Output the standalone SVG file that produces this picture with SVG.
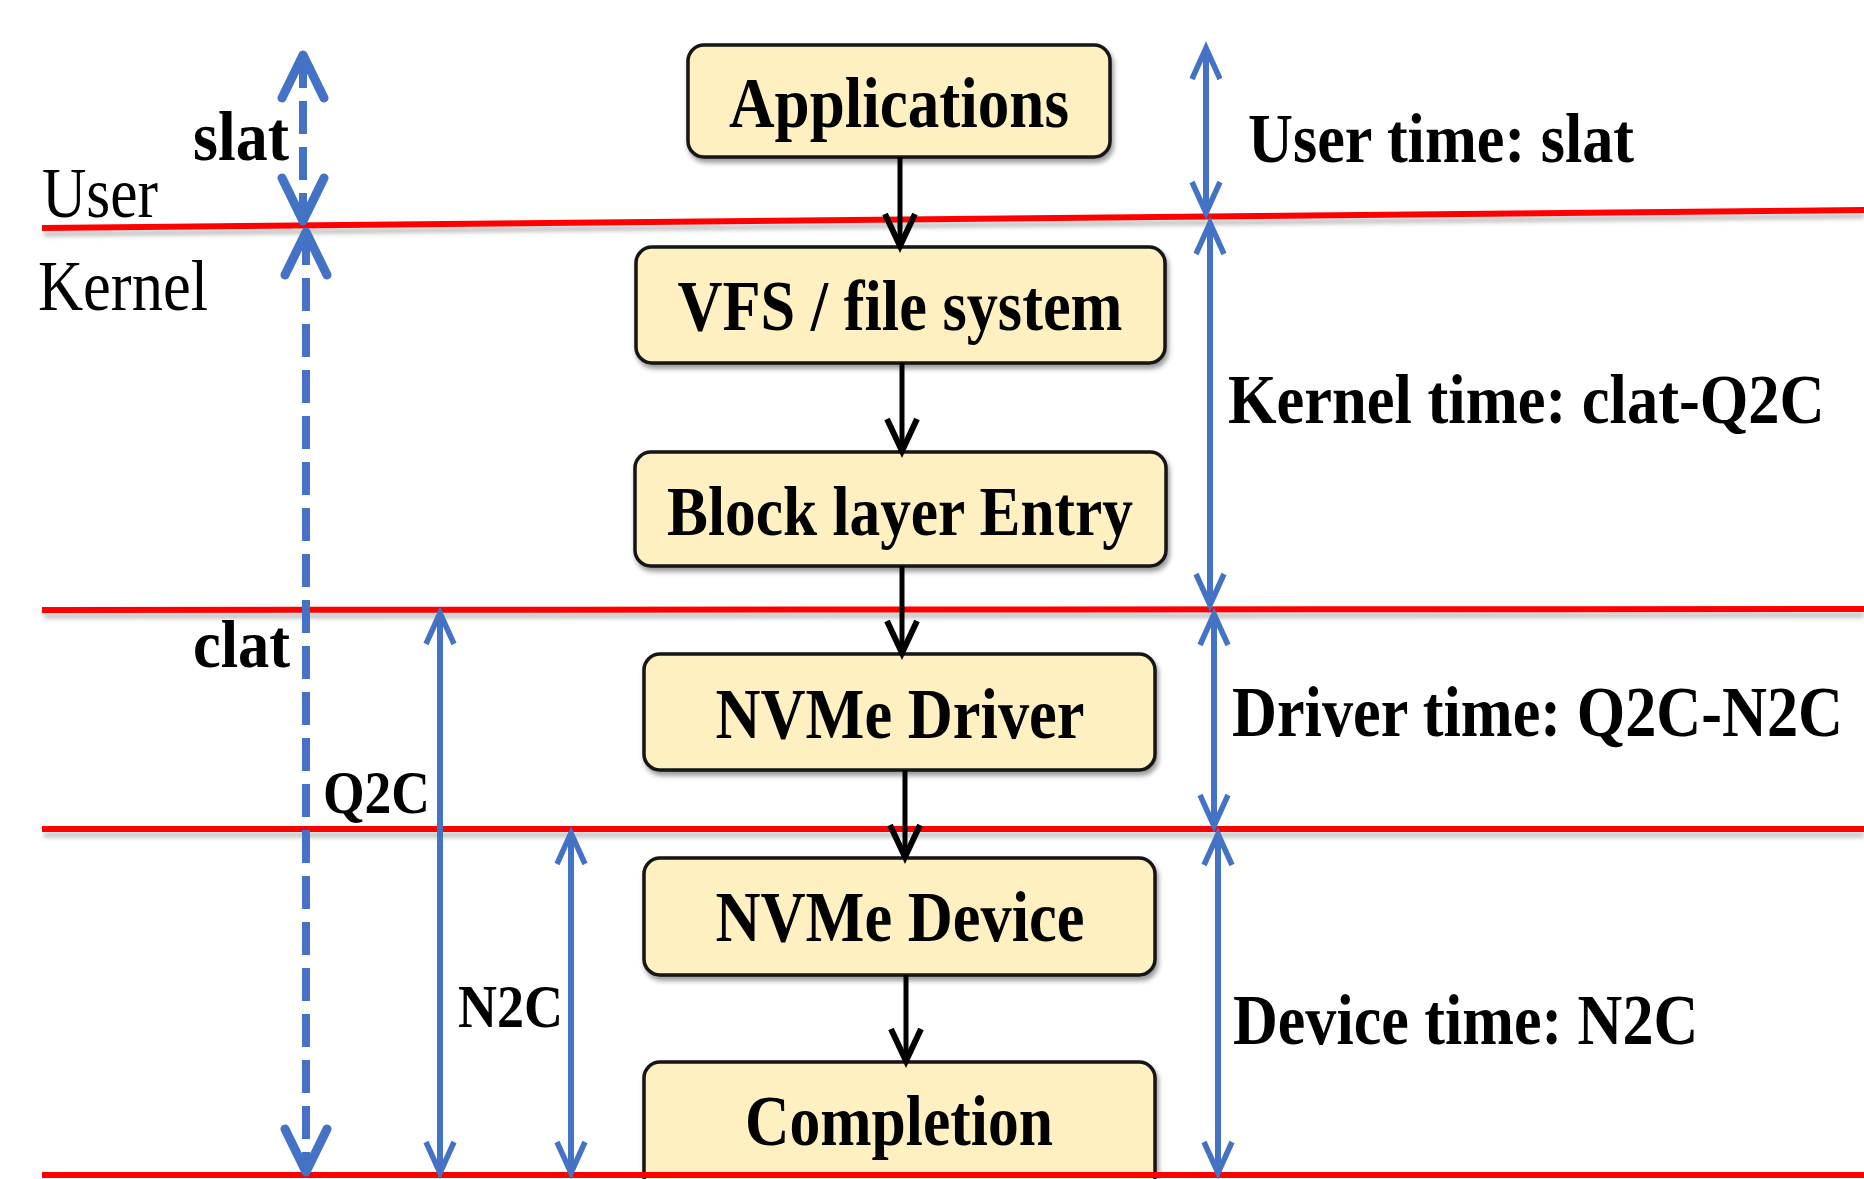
<svg xmlns="http://www.w3.org/2000/svg" width="1864" height="1179" viewBox="0 0 1864 1179">
  <style>
    .lane { stroke: #FF0000; stroke-width: 6; fill: none; }
    .laneShadow { stroke: #8a8a8a; stroke-width: 5; fill: none; opacity: 0.55; }
    .box { fill: #FFF0C2; stroke: #151515; stroke-width: 3.5; }
    .t { font-family: "Liberation Serif", "Times New Roman", serif; fill: #000; }
    .b { font-weight: bold; }
    .r { font-weight: normal; }
    .flow { stroke: #000; stroke-width: 5; fill: none; }
    .span { stroke: #4472C4; stroke-width: 6; fill: none; }
    .dash { stroke: #4472C4; stroke-width: 8; fill: none; stroke-dasharray: 33 13; }
  </style>
  <defs>
    <filter id="sh" x="-5%" y="-20%" width="110%" height="160%">
      <feDropShadow dx="2" dy="4" stdDeviation="2.5" flood-color="#000" flood-opacity="0.4"/>
    </filter>
    <filter id="blur" x="-5%" y="-300%" width="110%" height="700%">
      <feGaussianBlur stdDeviation="2"/>
    </filter>
    <marker id="ahBlack" markerUnits="userSpaceOnUse" viewBox="0 0 38 34" markerWidth="38" markerHeight="34" refX="34" refY="17" orient="auto-start-reverse" overflow="visible">
      <path d="M2,2 L34,17 L2,32" fill="none" stroke="#000" stroke-width="6" stroke-linejoin="miter"/>
    </marker>
    <marker id="ahBlue" markerUnits="userSpaceOnUse" viewBox="0 0 36 32" markerWidth="36" markerHeight="32" refX="33" refY="16" orient="auto-start-reverse" overflow="visible">
      <path d="M2,2 L33,16 L2,30" fill="none" stroke="#4472C4" stroke-width="5.5" stroke-linejoin="miter"/>
    </marker>
    <marker id="ahDash" markerUnits="userSpaceOnUse" viewBox="0 0 50 48" markerWidth="50" markerHeight="48" refX="46" refY="24" orient="auto-start-reverse" overflow="visible">
      <path d="M3,3 L46,24 L3,45" fill="none" stroke="#4472C4" stroke-width="9" stroke-linejoin="round" stroke-linecap="round"/>
    </marker>
  </defs>

  <rect width="1864" height="1179" fill="#FFFFFF"/>

  <g id="node-applications">
    <rect class="box" x="688" y="45" width="422" height="112" rx="16" filter="url(#sh)"/>
    <text class="t b" x="899" y="127" font-size="71" text-anchor="middle" textLength="340" lengthAdjust="spacingAndGlyphs">Applications</text>
  </g>
  <g id="node-vfs">
    <rect class="box" x="636" y="247" width="529" height="116" rx="16" filter="url(#sh)"/>
    <text class="t b" x="900" y="330" font-size="71" text-anchor="middle" textLength="445" lengthAdjust="spacingAndGlyphs">VFS / file system</text>
  </g>
  <g id="node-block">
    <rect class="box" x="635" y="452" width="531" height="114" rx="16" filter="url(#sh)"/>
    <text class="t b" x="900" y="535" font-size="70" text-anchor="middle" textLength="466" lengthAdjust="spacingAndGlyphs">Block layer Entry</text>
  </g>
  <g id="node-driver">
    <rect class="box" x="644" y="654" width="511" height="116" rx="16" filter="url(#sh)"/>
    <text class="t b" x="900" y="738" font-size="71" text-anchor="middle" textLength="369" lengthAdjust="spacingAndGlyphs">NVMe Driver</text>
  </g>
  <g id="node-device">
    <rect class="box" x="644" y="858" width="511" height="117" rx="16" filter="url(#sh)"/>
    <text class="t b" x="900" y="941" font-size="71" text-anchor="middle" textLength="369" lengthAdjust="spacingAndGlyphs">NVMe Device</text>
  </g>
  <g id="node-completion">
    <rect class="box" x="644" y="1062" width="511" height="130" rx="16" filter="url(#sh)"/>
    <text class="t b" x="899" y="1145" font-size="71" text-anchor="middle" textLength="308" lengthAdjust="spacingAndGlyphs">Completion</text>
  </g>

  <g id="boundaries">
    <g filter="url(#blur)">
      <line class="laneShadow" x1="44" y1="234" x2="1864" y2="216"/>
      <line class="laneShadow" x1="44" y1="616" x2="1864" y2="615"/>
      <line class="laneShadow" x1="44" y1="835" x2="1864" y2="835"/>
    </g>
    <line class="lane" x1="42" y1="228" x2="1864" y2="210"/>
    <line class="lane" x1="42" y1="610" x2="1864" y2="609"/>
    <line class="lane" x1="42" y1="829" x2="1864" y2="829"/>
    <line class="lane" x1="42" y1="1175" x2="1864" y2="1175"/>
  </g>

  <g id="connectors">
    <line class="flow" x1="900" y1="157" x2="900" y2="246" marker-end="url(#ahBlack)"/>
    <line class="flow" x1="902" y1="363" x2="902" y2="451" marker-end="url(#ahBlack)"/>
    <line class="flow" x1="902" y1="566" x2="902" y2="653" marker-end="url(#ahBlack)"/>
    <line class="flow" x1="905" y1="770" x2="905" y2="857" marker-end="url(#ahBlack)"/>
    <line class="flow" x1="906" y1="975" x2="906" y2="1061" marker-end="url(#ahBlack)"/>

    <line class="span" x1="1206" y1="48" x2="1206" y2="213" marker-start="url(#ahBlue)" marker-end="url(#ahBlue)"/>
    <line class="span" x1="1210" y1="223" x2="1210" y2="605" marker-start="url(#ahBlue)" marker-end="url(#ahBlue)"/>
    <line class="span" x1="1214" y1="614" x2="1214" y2="826" marker-start="url(#ahBlue)" marker-end="url(#ahBlue)"/>
    <line class="span" x1="1218" y1="834" x2="1218" y2="1173" marker-start="url(#ahBlue)" marker-end="url(#ahBlue)"/>

    <line class="span" x1="440" y1="613" x2="440" y2="1173" marker-start="url(#ahBlue)" marker-end="url(#ahBlue)"/>
    <line class="span" x1="571" y1="833" x2="571" y2="1173" marker-start="url(#ahBlue)" marker-end="url(#ahBlue)"/>

    <line class="dash" x1="303" y1="55" x2="303" y2="221" marker-start="url(#ahDash)" marker-end="url(#ahDash)"/>
    <line class="dash" x1="306" y1="232" x2="306" y2="1172" marker-start="url(#ahDash)" marker-end="url(#ahDash)"/>
  </g>

  <g id="labels">
    <text class="t b" x="193" y="160" font-size="70" textLength="96" lengthAdjust="spacingAndGlyphs">slat</text>
    <text class="t r" x="42" y="217" font-size="72" textLength="116" lengthAdjust="spacingAndGlyphs">User</text>
    <text class="t r" x="38" y="310" font-size="72" textLength="170" lengthAdjust="spacingAndGlyphs">Kernel</text>
    <text class="t b" x="193" y="667" font-size="68" textLength="97" lengthAdjust="spacingAndGlyphs">clat</text>
    <text class="t b" x="323" y="813" font-size="62" textLength="107" lengthAdjust="spacingAndGlyphs">Q2C</text>
    <text class="t b" x="458" y="1027" font-size="62" textLength="105" lengthAdjust="spacingAndGlyphs">N2C</text>

    <text class="t b" transform="translate(1248,162) scale(0.9,1)" x="0" y="0" font-size="70" textLength="429" lengthAdjust="spacingAndGlyphs">User time: slat</text>
    <text class="t b" transform="translate(1228,423) scale(0.9,1)" x="0" y="0" font-size="70" textLength="663" lengthAdjust="spacingAndGlyphs">Kernel time: clat-Q2C</text>
    <text class="t b" transform="translate(1232,736) scale(0.9,1)" x="0" y="0" font-size="71" textLength="679" lengthAdjust="spacingAndGlyphs">Driver time: Q2C-N2C</text>
    <text class="t b" transform="translate(1233,1044) scale(0.9,1)" x="0" y="0" font-size="71" textLength="517" lengthAdjust="spacingAndGlyphs">Device time: N2C</text>
  </g>
</svg>
